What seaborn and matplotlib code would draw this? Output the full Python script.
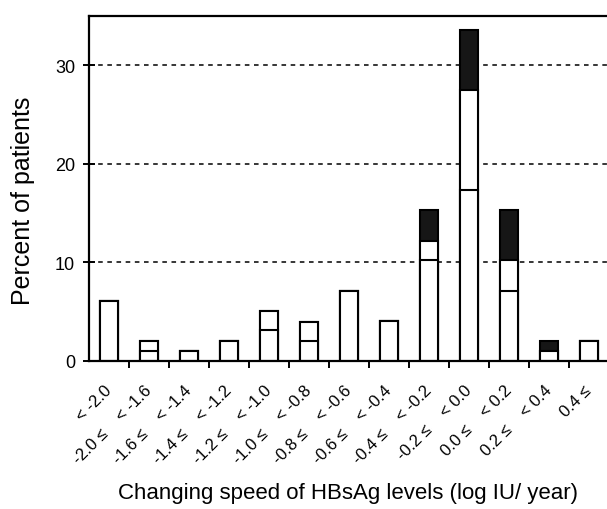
import matplotlib
matplotlib.use("Agg")
import matplotlib.pyplot as plt
import numpy as np
import pandas as pd
import seaborn as sns

# Rate-of-change bins (log IU / year)
categories = [
    "< -2.0",
    "-2.0 \u2264    < -1.6",
    "-1.6 \u2264    < -1.4",
    "-1.4 \u2264    < -1.2",
    "-1.2 \u2264    < -1.0",
    "-1.0 \u2264    < -0.8",
    "-0.8 \u2264    < -0.6",
    "-0.6 \u2264    < -0.4",
    "-0.4 \u2264    < -0.2",
    "-0.2 \u2264    < 0.0",
    "0.0 \u2264    < 0.2",
    "0.2 \u2264    < 0.4",
    "0.4 \u2264",
]

# Percent of patients in each stacked segment (bottom white, middle white, top dark)
seg_lower = [6.1, 1.0, 1.0, 2.0, 3.1, 2.0, 7.1, 4.1, 10.2, 17.3, 7.1, 1.0, 2.0]
seg_middle = [0.0, 1.0, 0.0, 0.0, 2.0, 2.0, 0.0, 0.0, 2.0, 10.2, 3.1, 0.0, 0.0]
seg_dark = [0.0, 0.0, 0.0, 0.0, 0.0, 0.0, 0.0, 0.0, 3.1, 6.1, 5.1, 1.0, 0.0]

y_ticks = [0, 10, 20, 30]

df = pd.DataFrame({"bin": categories,
                   "lower": seg_lower,
                   "middle": seg_middle,
                   "dark": seg_dark})
df["cum_mid"] = df["lower"] + df["middle"]
df["total"] = df["cum_mid"] + df["dark"]

sns.set_style("ticks")
plt.rcParams["font.family"] = ["Liberation Sans", "DejaVu Sans"]
plt.rcParams.update({"text.color": "black", "axes.labelcolor": "black",
                     "xtick.color": "black", "ytick.color": "black"})

fig = plt.figure(figsize=(6.07, 5.10), dpi=100)
ax = fig.add_axes([89 / 607, 1 - 362 / 510, 518 / 607, 345 / 510])

bar_kw = dict(order=categories, width=0.45, edgecolor="black", linewidth=1.5,
              saturation=1, ax=ax, errorbar=None)
sns.barplot(data=df, x="bin", y="total", color="#161616", **bar_kw)
sns.barplot(data=df, x="bin", y="cum_mid", color="white", **bar_kw)
sns.barplot(data=df, x="bin", y="lower", color="white", **bar_kw)

ax.set_xlim(-0.5, 12.45)
ax.set_ylim(0, 35)

# dashed reference lines
ax.set_yticks(y_ticks)
ax.yaxis.grid(True, linestyle=(0, (3, 3)), color="black", linewidth=1.1)
ax.set_axisbelow(True)

# spines
for side in ["left", "bottom", "top"]:
    ax.spines[side].set_visible(True)
    ax.spines[side].set_linewidth(1.6)
    ax.spines[side].set_color("black")
ax.spines["right"].set_visible(False)

# y ticks cross the axis line
ax.tick_params(axis="y", direction="inout", length=8, width=1.4,
               labelsize=13, pad=6, colors="black")

# x: labels at bar centres, tick marks between bars
ax.set_xticks(range(len(categories)))
ax.set_xticklabels(categories, rotation=45, ha="right", va="center",
                   rotation_mode="anchor", fontsize=12, color="black")
ax.tick_params(axis="x", which="major", length=0, pad=19)
ax.set_xticks(np.arange(0.5, len(categories) - 1, 1.0), minor=True)
ax.tick_params(axis="x", which="minor", direction="out", length=5, width=1.4)

ax.set_xlabel("")
ax.set_ylabel("")
fig.text(348 / 607, 1 - 494 / 510, "Changing speed of HBsAg levels (log IU/ year)",
         ha="center", va="center", fontsize=16, color="black")
fig.text(23 / 607, 1 - 201 / 510, "Percent of patients", rotation=90,
         ha="center", va="center", fontsize=18, color="black")

fig.savefig("out.png", dpi=100)
